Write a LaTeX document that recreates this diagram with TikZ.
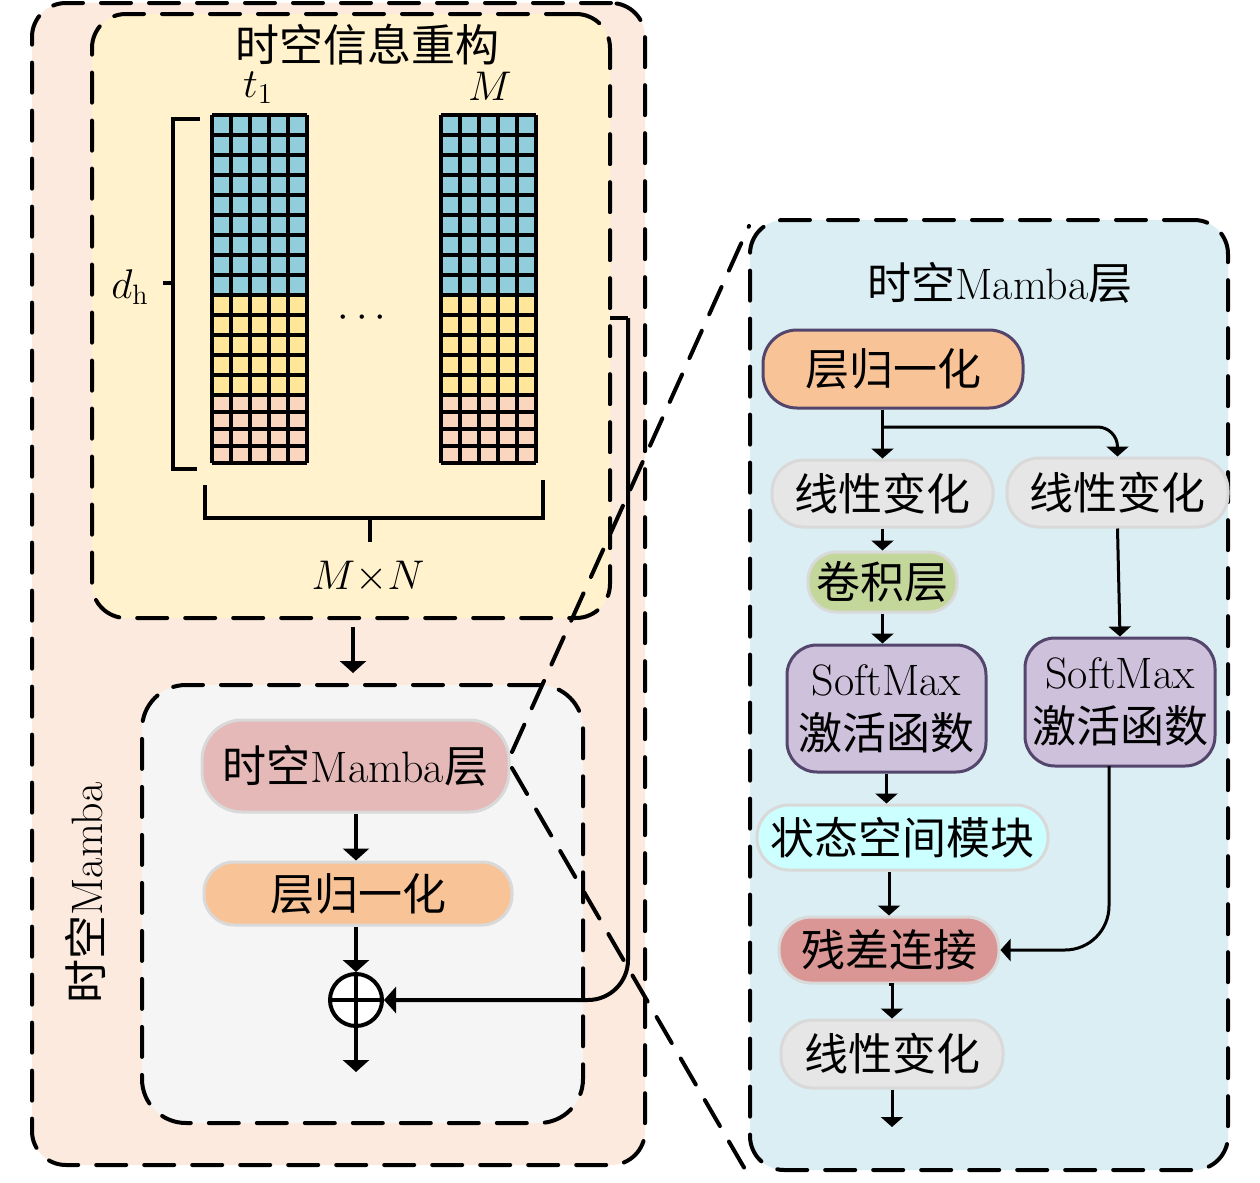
\documentclass[tikz,border=0pt]{standalone}
\usepackage{fontspec}
\newfontfamily\cjk{Noto Sans CJK SC}
\usetikzlibrary{arrows.meta}
\definecolor{outerfill}{RGB}{252,234,222}
\definecolor{yelfill}{RGB}{255,242,204}
\definecolor{grayfill}{RGB}{245,245,245}
\definecolor{rpfill}{RGB}{218,238,243}
\definecolor{gblue}{RGB}{146,205,220}
\definecolor{gyel}{RGB}{255,230,153}
\definecolor{gpink}{RGB}{250,214,190}
\definecolor{bordergray}{RGB}{217,217,217}
\definecolor{bpurple}{RGB}{84,69,108}
\definecolor{mambafill}{RGB}{228,185,184}
\definecolor{lnfill}{RGB}{248,196,151}
\definecolor{linfill}{RGB}{230,230,230}
\definecolor{convfill}{RGB}{196,215,155}
\definecolor{smfill}{RGB}{206,193,220}
\definecolor{ssmfill}{RGB}{204,255,255}
\definecolor{resfill}{RGB}{218,150,148}
\newcommand\zh[1]{{\cjk #1}}
\begin{document}
\begin{tikzpicture}[x=0.5pt,y=-0.5pt,
  dbox/.style={draw, line width=2pt, dash pattern=on 15pt off 9pt, line cap=round, rounded corners=17pt},
  pill/.style={draw=bordergray, line width=1.5pt, inner sep=1pt, align=center, font=\fontsize{22}{27}\selectfont},
  ppill/.style={pill, draw=bpurple},
  arr/.style={line width=1.5pt, -{Triangle[length=5pt,width=11pt]}},
  barr/.style={line width=2pt, -{Triangle[length=6pt,width=13pt]}},
  gl/.style={line width=2pt},
  zline/.style={line width=2pt, dash pattern=on 15pt off 9pt, line cap=round},
  lbl/.style={inner sep=0pt, font=\fontsize{22}{26}\selectfont},
  mlbl/.style={inner sep=0pt, font=\fontsize{20}{24}\selectfont}]
\useasboundingbox (0,0) rectangle (1260,1183);

% outer boxes
\node[dbox, fill=outerfill, minimum width=306.5pt, minimum height=581pt] (ob) at (338.5,584) {};
\node[dbox, fill=yelfill, minimum width=259pt, minimum height=302pt] (yb) at (351,316) {};
\node[dbox, fill=grayfill, minimum width=220.5pt, minimum height=219pt, rounded corners=22pt] (gb) at (362.5,904) {};
\node[dbox, fill=rpfill, minimum width=239pt, minimum height=475pt, rounded corners=17pt] (rp) at (989,695) {};

% titles
\node[lbl] (t1) at (367,45) {\zh{时空信息重构}};
\node[lbl] (t2) at (1000,283) {\zh{时空}Mamba\zh{层}};
\node[lbl, rotate=90] (t3) at (85,893) {\zh{时空}Mamba};

% grids
\foreach \gx in {212,441}{
  \fill[gblue] (\gx,115) rectangle ++(95,180);
  \fill[gyel] (\gx,295) rectangle ++(95,100);
  \fill[gpink] (\gx,395) rectangle ++(95,68);
  \foreach \i in {0,...,5} \draw[gl] (\gx+\i*19,115) -- (\gx+\i*19,463);
  \foreach \j in {0,...,14} \draw[gl] (\gx,115+\j*20) -- (\gx+95,115+\j*20);
  \foreach \j in {1,...,4} \draw[gl] (\gx,395+\j*17) -- (\gx+95,395+\j*17);
}
\node[mlbl] (lt) at (258,88) {$t_1$};
\node[mlbl] (lm) at (490,86) {$M$};
\node[mlbl] (ld) at (362,318) {$\cdots$};
\node[mlbl] (ldh) at (130,287) {$d_{\mathrm{h}}$};
\node[mlbl] (lmn) at (368,577) {$M{\times}N$};
% brackets
\draw[gl] (200,119) -- (173,119) -- (173,469) -- (197,469);
\draw[gl] (173,283) -- (163,283);
\draw[gl] (205,485) -- (205,518) -- (543,518) -- (543,480);
\draw[gl] (370,518) -- (370,542);

% left nodes
\node[pill, fill=mambafill, minimum width=153.5pt, minimum height=46pt, rounded corners=20pt] (m1) at (355.5,766) {\zh{时空}Mamba\zh{层}};
\node[pill, fill=lnfill, minimum width=154pt, minimum height=31.5pt, rounded corners=15pt] (ln1) at (358,893.5) {\zh{层归一化}};
\node[draw, circle, line width=2pt, fill=white, minimum size=26pt, inner sep=0pt] (plus) at (356,1000) {};
\draw[line width=2pt] (plus.north) -- (plus.south) (plus.west) -- (plus.east);
\coordinate (out1) at (356,1072);

\draw[barr, shorten <=3.5pt, shorten >=6pt] (yb.south -| 353,0) -- (353,685);
\draw[barr] (m1.south -| plus.north) -- (plus.north |- ln1.north);
\draw[barr] (ln1.south -| plus.north) -- (plus.north);
\draw[barr] (plus.south) -- (out1);
\coordinate (k1) at (628,318);
\draw[line width=2pt] (610,318) -- (k1);
\draw[barr, rounded corners=20pt] (k1) |- (plus.east);

% right nodes
\node[ppill, fill=lnfill, minimum width=130pt, minimum height=39pt, rounded corners=17pt] (ln2) at (893,369) {\zh{层归一化}};
\node[pill, fill=linfill, minimum width=110.5pt, minimum height=33.5pt, rounded corners=16pt] (lin1) at (882.5,493.5) {\zh{线性变化}};
\node[pill, fill=linfill, minimum width=110.5pt, minimum height=34.5pt, rounded corners=16pt] (lin2) at (1117.5,492.5) {\zh{线性变化}};
\node[pill, fill=convfill, minimum width=74.5pt, minimum height=30pt, rounded corners=14pt] (conv) at (882.5,582) {\zh{卷积层}};
\node[ppill, fill=smfill, minimum width=99.5pt, minimum height=63.5pt, rounded corners=15pt] (sm1) at (886.5,708.5) {SoftMax\\\zh{激活函数}};
\node[ppill, fill=smfill, minimum width=95pt, minimum height=64pt, rounded corners=15pt] (sm2) at (1120,702) {SoftMax\\\zh{激活函数}};
\node[pill, fill=ssmfill, minimum width=145.5pt, minimum height=32.5pt, rounded corners=16pt] (ssm) at (902.5,837.5) {\zh{状态空间模块}};
\node[pill, fill=resfill, minimum width=110pt, minimum height=33pt, rounded corners=16pt] (res) at (889,950) {\zh{残差连接}};
\node[pill, fill=linfill, minimum width=111pt, minimum height=34pt, rounded corners=16pt] (lin3) at (892,1054) {\zh{线性变化}};
\coordinate (out2) at (892,1127);
\coordinate (br) at (882,427);

\draw[arr] (lin1.north |- ln2.south) -- (lin1.north);
\draw[arr, rounded corners=10pt] (br) -| (lin2.north);
\draw[arr] (lin1.south -| conv.south) -- (conv.north);
\draw[arr] (conv.south) -- (conv.south |- sm1.north);
\draw[arr] (sm1.south) -- (sm1.south |- ssm.north);
\draw[arr] (res.north |- ssm.south) -- (res.north);
\draw[arr] (res.south) -- (res.south -| lin3.north) -- (lin3.north);
\draw[arr] (lin3.south) -- (out2);
\draw[arr] (lin2.south) -- (sm2.north);
\coordinate (s2) at (1109,766);
\draw[arr, rounded corners=22pt] (s2) |- (res.east);

% zoom lines
\coordinate (z1) at (512,752);
\coordinate (z2) at (749,226);
\coordinate (z3) at (512,768);
\coordinate (z4) at (753,1183);
\draw[zline] (z1) -- (z2);
\draw[zline] (z3) -- (z4);
\end{tikzpicture}
\end{document}
